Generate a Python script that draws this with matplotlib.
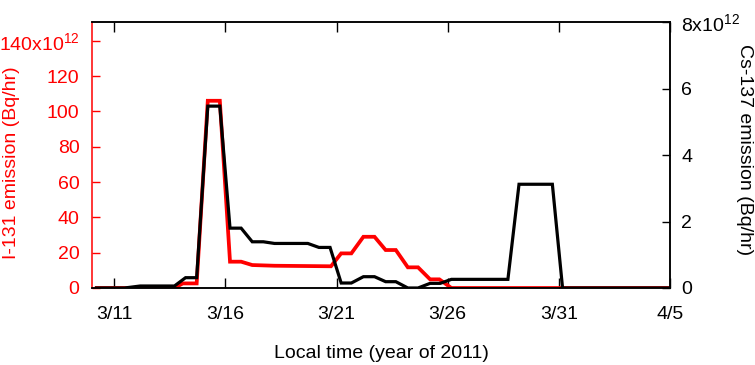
import matplotlib
matplotlib.use("Agg")
import matplotlib.pyplot as plt
import matplotlib.dates as mdates
import pandas as pd

plt.rcParams["font.family"] = ["Liberation Sans", "DejaVu Sans"]

# I-131 emission (x10^12 Bq/hr)
i131_time = ["2011-03-10 05:00", "2011-03-13 17:00", "2011-03-14 02:00", "2011-03-14 17:00",
             "2011-03-15 05:00", "2011-03-15 18:00", "2011-03-16 05:00", "2011-03-16 17:00",
             "2011-03-17 05:00", "2011-03-18 05:00", "2011-03-20 18:00", "2011-03-21 05:00",
             "2011-03-21 16:00", "2011-03-22 05:00", "2011-03-22 17:00", "2011-03-23 05:00",
             "2011-03-23 16:00", "2011-03-24 05:00", "2011-03-24 16:00", "2011-03-25 05:00",
             "2011-03-25 15:00", "2011-03-26 04:00", "2011-04-05 00:00"]
i131_vals = [0, 0, 2.6, 2.6,
             106, 106, 14.9, 14.9,
             13.0, 12.6, 12.3, 19.6,
             19.6, 29.0, 29.0, 21.5,
             21.5, 11.7, 11.7, 4.9,
             4.9, 0, 0]

# Cs-137 emission (x10^12 Bq/hr)
cs137_time = ["2011-03-10 05:00", "2011-03-11 11:00", "2011-03-12 04:00", "2011-03-13 17:00",
              "2011-03-14 05:00", "2011-03-14 17:00", "2011-03-15 05:00", "2011-03-15 18:00",
              "2011-03-16 05:00", "2011-03-16 17:00", "2011-03-17 05:00", "2011-03-17 17:00",
              "2011-03-18 05:00", "2011-03-19 17:00", "2011-03-20 05:00", "2011-03-20 17:00",
              "2011-03-21 05:00", "2011-03-21 16:00", "2011-03-22 05:00", "2011-03-22 17:00",
              "2011-03-23 05:00", "2011-03-23 16:00", "2011-03-24 05:00", "2011-03-24 16:00",
              "2011-03-25 05:00", "2011-03-25 16:00", "2011-03-26 04:00", "2011-03-28 17:00",
              "2011-03-29 05:00", "2011-03-30 17:00", "2011-03-31 04:00", "2011-04-05 00:00"]
cs137_vals = [0, 0, 0.06, 0.06,
              0.31, 0.31, 5.47, 5.47,
              1.80, 1.80, 1.39, 1.39,
              1.34, 1.34, 1.22, 1.22,
              0.15, 0.15, 0.34, 0.34,
              0.19, 0.19, 0.0, 0.0,
              0.14, 0.14, 0.26, 0.26,
              3.12, 3.12, 0, 0]

tick_dates = ["2011-03-11", "2011-03-16", "2011-03-21", "2011-03-26", "2011-03-31", "2011-04-05"]
left_ticks = [0, 20, 40, 60, 80, 100, 120, 140]
left_labels = ["0", "20", "40", "60", "80", "100", "120", r"$\mathregular{140x10^{12}}$"]
right_ticks = [0, 2, 4, 6, 8]
right_labels = ["0", "2", "4", "6", r"$\mathregular{8x10^{12}}$"]

fig = plt.figure(figsize=(7.55, 3.65), dpi=100)
ax = fig.add_axes([92 / 755, 1 - 288 / 365, (670 - 92) / 755, (288 - 22) / 365])
ax2 = ax.twinx()

red = "#ff0000"
ax.plot(pd.to_datetime(i131_time), i131_vals, color=red, lw=2.7, solid_joinstyle="miter")
ax2.plot(pd.to_datetime(cs137_time), cs137_vals, color="black", lw=2.3, solid_joinstyle="miter")

ax.set_xlim(pd.Timestamp("2011-03-10"), pd.Timestamp("2011-04-05"))
ax.set_ylim(0, 150.6)
ax2.set_ylim(0, 8)

ax.set_xticks(pd.to_datetime(tick_dates))
ax.xaxis.set_major_formatter(plt.FuncFormatter(
    lambda v, p: f"{mdates.num2date(v).month}/{mdates.num2date(v).day}"))

ax.set_yticks(left_ticks)
ax.set_yticklabels(left_labels)
ax2.set_yticks(right_ticks)
ax2.set_yticklabels(right_labels)

fs = 14
ax.tick_params(axis="x", direction="in", top=True, length=7, width=1, labelsize=fs, pad=13)
ax.tick_params(axis="y", direction="in", colors=red, length=6, width=1, labelsize=fs, pad=9)
ax2.tick_params(axis="y", direction="in", length=6, width=1, labelsize=fs, pad=8)

for a in (ax, ax2):
    for s in a.spines.values():
        s.set_linewidth(1.1)
ax.spines["left"].set_color(red)
ax2.spines["left"].set_visible(False)

ax.set_xlabel("Local time (year of 2011)", fontsize=fs, labelpad=16)
ax.set_ylabel("I-131 emission (Bq/hr)", fontsize=fs, color=red)
ax.yaxis.set_label_coords((20 - 92) / 578, (288 - 163) / 266)
ax2.set_ylabel("Cs-137 emission (Bq/hr)", fontsize=fs, rotation=-90, va="center")
ax2.yaxis.set_label_coords((744 - 92) / 578, (288 - 150) / 266)

fig.savefig("out.png", dpi=100)
